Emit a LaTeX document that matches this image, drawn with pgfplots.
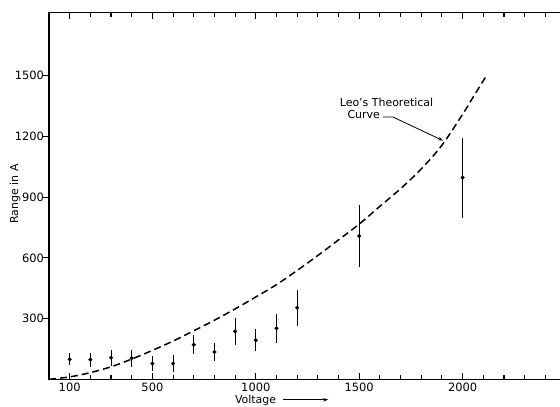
\documentclass[border=0pt]{standalone}
\usepackage{fontspec}
\setmainfont{DejaVu Sans}
\usepackage{pgfplots}
\usepackage{pgfplotstable}
\pgfplotsset{compat=1.18}
\usetikzlibrary{arrows.meta}

\pgfplotstableread{
V R E
100 99 16
200 97 21
300 107 26
400 105 29
500 78 25
600 78 30
700 171 35
800 135 31
900 237 53
1000 193 41
1100 252 58
1200 354 76
1500 708 142
2000 997 185
}\measured

\pgfplotstableread{
V R
0 0
100 12
200 33
300 62
400 100
500 143
600 189
700 240
800 292
900 348
1000 407
1100 468
1200 538
1300 612
1400 689
1500 767
1600 855
1700 942
1800 1040
1900 1157
2000 1310
2050 1393
2116 1502
}\theory

\begin{document}
\begin{tikzpicture}
\useasboundingbox (-49bp,-27.7bp) rectangle (511bp,379.3bp);
\begin{axis}[
  at={(0,0)}, anchor=south west,
  scale only axis,
  width=540bp, height=366.6bp,
  xmin=0, xmax=2611.2, ymin=0, ymax=1812,
  xtick={100,500,1000,1500,2000},
  minor xtick={200,300,400,600,700,800,900,1100,1200,1300,1400,1600,1700,1800,1900,2100,2200,2300,2400},
  xtick pos=both, xticklabel pos=bottom,
  ytick={300,600,900,1200,1500},
  ytick pos=left,
  tick align=inside,
  major tick length=6bp, minor tick length=4.5bp,
  ytick style={xshift=-6bp},
  tick style={black, line width=1.1bp},
  axis line style={black, line width=1.3bp},
  ticklabel style={font=\fontsize{11.5}{13}\selectfont},
  yticklabel style={xshift=-1.5bp},
  /pgf/number format/assume math mode=true,
  /pgf/number format/set thousands separator={},
  clip=false,
]
\addplot[black, line width=1.5bp, dash pattern=on 7bp off 4bp, smooth, tension=0.6]
  table[x=V, y=R] {\theory};

\addplot[black, only marks, mark=*, mark size=1.8bp,
  error bars/.cd, y dir=both, y explicit,
  error bar style={line width=0.9bp, black},
  error mark options={line width=0.9bp, mark size=2.6bp, black}]
  table[x=V, y=R, y error=E] {\measured};

\node[font=\fontsize{11}{13}\selectfont] at (axis cs:1632,1371) {Leo's Theoretical};
\node[font=\fontsize{11}{13}\selectfont] at (axis cs:1522,1310) {Curve};
\draw[black, line width=0.8bp, -{Stealth[length=5bp,width=3.5bp]}]
  (axis cs:1616,1296) -- (axis cs:1664,1296) -- (axis cs:1905,1180);

\node[font=\fontsize{11}{13}\selectfont, anchor=base] at (axis cs:999,-121) {Voltage};
\draw[black, line width=0.8bp, -{Stealth[length=5bp,width=3.5bp]}]
  (axis cs:1132,-101) -- (axis cs:1350,-101);
\node[font=\fontsize{11}{13}\selectfont, rotate=90, anchor=center] at (axis cs:-164,916) {Range in A};
\end{axis}
\end{tikzpicture}
\end{document}
